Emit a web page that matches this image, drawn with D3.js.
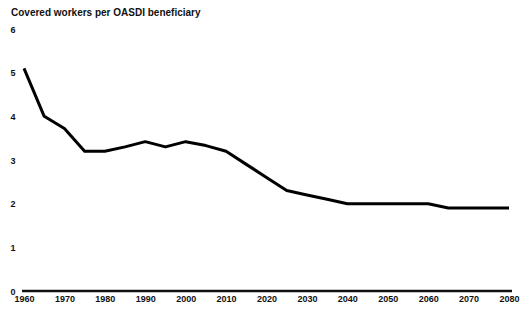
<!DOCTYPE html>
<html>
<head>
<meta charset="utf-8">
<script src="https://cdn.jsdelivr.net/npm/d3@7"></script>
<style>
body { margin: 0; background: #fff; }
text { font-family: "Liberation Sans", Arial, sans-serif; font-weight: bold; fill: #111; }
</style>
</head>
<body>
<script>
let width = 523
let height = 314

// covered workers per OASDI beneficiary, every 5 years
let years = [1960, 1965, 1970, 1975, 1980, 1985, 1990, 1995, 2000, 2005, 2010, 2015, 2020, 2025, 2030, 2035, 2040, 2045, 2050, 2055, 2060, 2065, 2070, 2075, 2080]
let ratio = [5.1, 4.0, 3.72, 3.2, 3.2, 3.3, 3.42, 3.3, 3.42, 3.33, 3.2, 2.9, 2.6, 2.3, 2.2, 2.1, 2.0, 2.0, 2.0, 2.0, 2.0, 1.9, 1.9, 1.9, 1.9]

let xTicks = [1960, 1970, 1980, 1990, 2000, 2010, 2020, 2030, 2040, 2050, 2060, 2070, 2080]
let yTicks = [0, 1, 2, 3, 4, 5, 6]
let title = "Covered workers per OASDI beneficiary"

let svg = d3.select("body")
.append("svg")
.attr("width", width)
.attr("height", height)

let x = d3.scaleLinear().domain([1960, 2080]).range([24, 509])
let y = d3.scaleLinear().domain([0, 6]).range([291, 29])

svg.append("text")
.attr("x", 11)
.attr("y", 16)
.style("font-size", "10px")
.text(title)

// y labels, no axis line
let yAxis = d3.axisLeft(y).tickValues(yTicks).tickFormat(d3.format("d")).tickSize(0).tickPadding(0)
let gy = svg.append("g").attr("transform", "translate(13,0)").call(yAxis)
gy.select(".domain").remove()
gy.selectAll("text").style("font-size", "9px").attr("font-family", null).attr("text-anchor", "middle").attr("x", 0).attr("dy", "0.35em")

let xAxis = d3.axisBottom(x).tickValues(xTicks).tickFormat(d3.format("d")).tickSize(0).tickPadding(0)
let gx = svg.append("g").attr("transform", "translate(0,296)").call(xAxis)
gx.select(".domain").remove()
gx.selectAll("text").style("font-size", "9px").attr("font-family", null).attr("dy", "0.71em")

// zero baseline
svg.append("line")
.attr("x1", x(1960) - 2)
.attr("x2", x(2080) + 3)
.attr("y1", y(0))
.attr("y2", y(0))
.style("stroke", "#111")
.style("stroke-width", 2.5)

let line = d3.line()
.x((d, i) => x(years[i]))
.y(d => y(d))

svg.append("path")
.datum(ratio)
.attr("d", line)
.style("fill", "none")
.style("stroke", "#000")
.style("stroke-width", 3)
.style("stroke-linejoin", "round")
</script>
</body>
</html>
